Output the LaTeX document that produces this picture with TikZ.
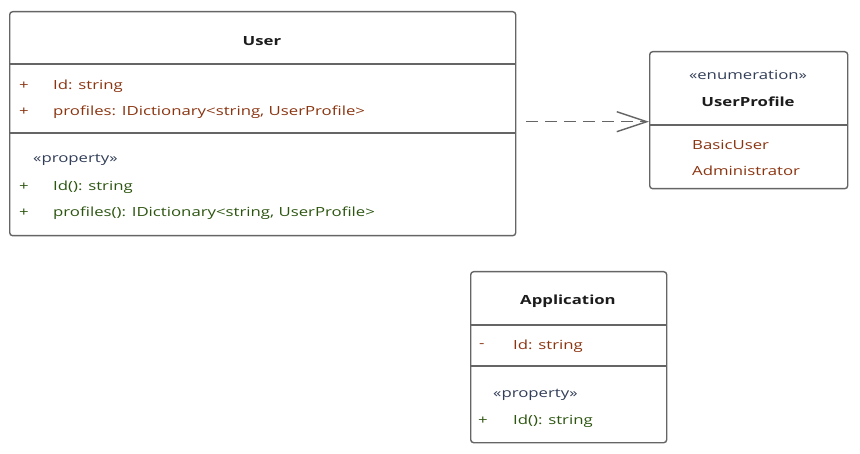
\documentclass[tikz,border=0pt]{standalone}
\usepackage{fontspec}
\setmainfont{Open Sans}[FakeStretch=1.33]
\usetikzlibrary{arrows.meta,positioning,calc}
\definecolor{frame}  {HTML}{656565}
\definecolor{attrc}  {HTML}{8A3410}
\definecolor{operc}  {HTML}{2C5510}
\definecolor{stereoc}{HTML}{323E58}
\definecolor{ink}    {HTML}{1C1C1C}

\begin{document}
\begin{tikzpicture}[x=1pt,y=-1pt,
    classbox/.style={draw=frame, line width=1.4pt, rounded corners=3pt,
                     fill=white, inner sep=0pt, anchor=north west},
    sepline/.style={draw=frame, line width=1.4pt},
    txt/.style={font=\fontsize{12.6}{14}\selectfont, inner sep=0pt},
    member/.style={txt, anchor=west},
    attr/.style={member, color=attrc},
    oper/.style={member, color=operc},
    stereo/.style={txt, color=stereoc},
    title/.style={txt, font=\fontsize{12.6}{14}\selectfont\bfseries, color=ink},
    dep/.style={draw=frame, line width=1.4pt, dash pattern=on 12pt off 7pt,
                -{Straight Barb[length=30pt,width=20pt,line width=1.4pt]}}]
  \useasboundingbox (0,0) rectangle (860,454);

  % class User
  \node[classbox, minimum width=506pt, minimum height=224pt] (user) at (9,11) {};
  \draw[sepline] (user.west |- 0,64) -- (user.east |- 0,64);
  \draw[sepline] (user.west |- 0,133) -- (user.east |- 0,133);
  \node[title] (usertitle) at (262,41) {User};
  \node[attr] (userplusa) at (19,86) {+};
  \node[attr] (userid) at (53,86) {Id: string};
  \node[attr] (userplusb) at (19,112) {+};
  \node[attr] (userprof) at (53,112) {profiles: IDictionary<string, UserProfile>};
  \node[stereo, anchor=west] (userstereo) at (33,160) {«property»};
  \node[oper] (userplusc) at (19,187) {+};
  \node[oper] (useridop) at (53,187) {Id(): string};
  \node[oper] (userplusd) at (19,213) {+};
  \node[oper] (userprofop) at (53,213) {profiles(): IDictionary<string, UserProfile>};

  % enumeration UserProfile
  \node[classbox, minimum width=198pt, minimum height=137pt] (profile) at (649,51) {};
  \draw[sepline] (profile.west |- 0,125) -- (profile.east |- 0,125);
  \node[stereo] (profstereo) at (748,75) {«enumeration»};
  \node[title] (proftitle) at (748,102) {UserProfile};
  \node[attr] (basic) at (692,145) {BasicUser};
  \node[attr] (admin) at (692,171) {Administrator};

  % class Application
  \node[classbox, minimum width=196pt, minimum height=171pt] (app) at (470,271) {};
  \draw[sepline] (app.west |- 0,325) -- (app.east |- 0,325);
  \draw[sepline] (app.west |- 0,366) -- (app.east |- 0,366);
  \node[title] (apptitle) at (568,301) {Application};
  \node[attr] (appminus) at (479,346) {-};
  \node[attr] (appid) at (513,346) {Id: string};
  \node[stereo, anchor=west] (appstereo) at (493,395) {«property»};
  \node[oper] (appplus) at (478,421) {+};
  \node[oper] (appidop) at (513,421) {Id(): string};

  % dependency
  \draw[dep, shorten <=10pt] ([yshift=2pt]user.east) -- ([yshift=2pt]user.east -| profile.west);
\end{tikzpicture}
\end{document}
